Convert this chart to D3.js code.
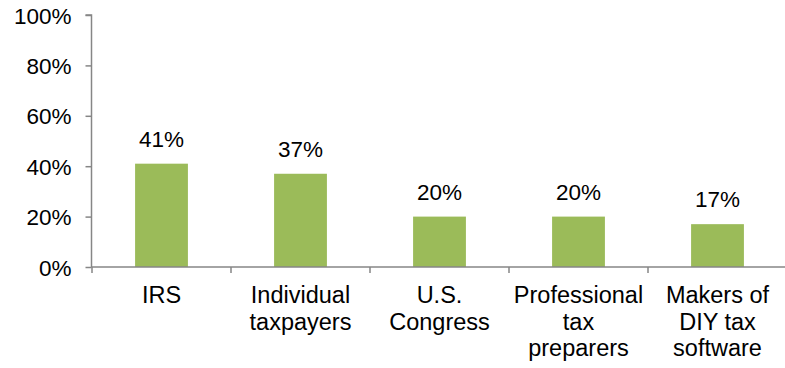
<!DOCTYPE html>
<html>
<head>
<meta charset="utf-8">
<script src="https://d3js.org/d3.v7.min.js"></script>
<style>
  body { margin: 0; background: #fff; }
  text { font-family: Arial, "Liberation Sans", sans-serif; fill: #000; }
</style>
</head>
<body>
<div id="chart"></div>
<script>
var categories = ['IRS', 'Individual taxpayers', 'U.S. Congress', 'Professional tax preparers', 'Makers of DIY tax software'];
var labelLines = [['IRS'], ['Individual', 'taxpayers'], ['U.S.', 'Congress'], ['Professional', 'tax', 'preparers'], ['Makers of', 'DIY tax', 'software']];
var values = [0.41, 0.37, 0.20, 0.20, 0.17];
var yTicks = [0, 0.2, 0.4, 0.6, 0.8, 1.0];

var width = 785, height = 368;
var margin = {left: 92, right: 0, top: 15, bottom: 101};

var svg = d3.select('#chart').append('svg')
    .attr('width', width).attr('height', height);

var x = d3.scaleBand()
    .domain(categories)
    .range([margin.left, margin.left + 139 * 5])
    .paddingInner(0.62)
    .paddingOuter(0.31);

var y = d3.scaleLinear()
    .domain([0, 1])
    .range([height - margin.bottom, margin.top]);

var axisColor = '#868686';

// bars
svg.append('g').selectAll('rect')
    .data(values)
    .enter().append('rect')
    .attr('x', function(d, i) { return x(categories[i]); })
    .attr('y', function(d) { return y(d); })
    .attr('width', x.bandwidth())
    .attr('height', function(d) { return y(0) - y(d); })
    .attr('fill', '#9BBB59');

// value labels
svg.append('g').selectAll('text')
    .data(values)
    .enter().append('text')
    .attr('x', function(d, i) { return x(categories[i]) + x.bandwidth() / 2; })
    .attr('y', function(d) { return y(d) - 17; })
    .attr('text-anchor', 'middle')
    .style('font-size', '22.5px')
    .text(function(d) { return Math.round(d * 100) + '%'; });

// y axis
var yAxis = svg.append('g')
    .attr('transform', 'translate(' + (margin.left - 0.5) + ',0)')
    .call(d3.axisLeft(y).tickValues(yTicks).tickSize(6).tickPadding(14)
        .tickFormat(function(d) { return Math.round(d * 100) + '%'; }));
yAxis.select('.domain').attr('stroke', axisColor).attr('stroke-width', 1.5)
    .attr('d', 'M-6,' + y(1) + 'H0V' + y(0));
yAxis.selectAll('.tick line').attr('stroke', axisColor).attr('stroke-width', 1.5);
yAxis.selectAll('.tick text').style('font-size', '22.5px').attr('dy', '0.36em');

// x axis
var step = x.step();
var boundaries = d3.range(categories.length + 1).map(function(i) { return margin.left + i * step; });
svg.append('line')
    .attr('x1', margin.left - 0.5).attr('x2', width)
    .attr('y1', y(0)).attr('y2', y(0))
    .attr('stroke', axisColor).attr('stroke-width', 1.5);
svg.append('g').selectAll('line')
    .data(boundaries)
    .enter().append('line')
    .attr('x1', function(d) { return d; }).attr('x2', function(d) { return d; })
    .attr('y1', y(0)).attr('y2', y(0) + 6)
    .attr('stroke', axisColor).attr('stroke-width', 1.5);

// category labels
var cat = svg.append('g').selectAll('text')
    .data(labelLines)
    .enter().append('text')
    .attr('text-anchor', 'middle')
    .attr('x', function(d, i) { return x(categories[i]) + x.bandwidth() / 2; })
    .attr('y', y(0) + 36)
    .style('font-size', '23.5px');
cat.selectAll('tspan')
    .data(function(d) { return d; })
    .enter().append('tspan')
    .attr('x', function() { return this.parentNode.getAttribute('x'); })
    .attr('dy', function(d, i) { return i === 0 ? 0 : 26.7; })
    .text(function(d) { return d; });
</script>
</body>
</html>
